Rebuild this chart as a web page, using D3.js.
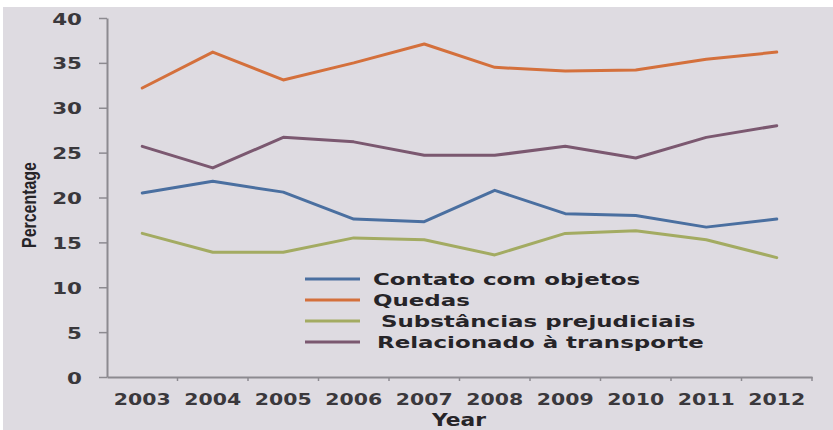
<!DOCTYPE html>
<html>
<head>
<meta charset="utf-8">
<script src="https://cdn.jsdelivr.net/npm/d3@7"></script>
<style>
html,body{margin:0;padding:0;background:#fff;}
svg{display:block;}
</style>
</head>
<body>
<svg id="chart" width="833" height="430"></svg>
<script>
const years = ["2003","2004","2005","2006","2007","2008","2009","2010","2011","2012"];
const seriesNames = ["Contato com objetos","Quedas"," Substâncias prejudiciais","Relacionado à transporte"];
const contato = [20.5,21.8,20.6,17.6,17.3,20.8,18.2,18.0,16.7,17.6];
const quedas = [32.2,36.2,33.1,35.0,37.1,34.5,34.1,34.2,35.4,36.2];
const substancias = [16.0,13.9,13.9,15.5,15.3,13.6,16.0,16.3,15.3,13.3];
const transporte = [25.7,23.3,26.7,26.2,24.7,24.7,25.7,24.4,26.7,28.0];
const yTicks = [0,5,10,15,20,25,30,35,40];
const colors = ["#4a6fa0","#d4703c","#a3ab62","#7b5870"];

const allSeries = [contato, quedas, substancias, transporte];
const svg = d3.select("#chart");
svg.append("rect").attr("x",3).attr("y",7).attr("width",830).attr("height",423).attr("fill","#dedbe1");

const mLeft = 107, mRight = 812, mTop = 18, mBottom = 377;
const x = d3.scaleBand().domain(years).range([mLeft,mRight]);
const y = d3.scaleLinear().domain([0,40]).range([mBottom,mTop]);

const font = "'DejaVu Sans', Verdana, sans-serif";
const axisCol = "#8c8a90";

// y axis
const gy = svg.append("g").attr("transform",`translate(${mLeft},0)`)
  .call(d3.axisLeft(y).tickValues(yTicks).tickSize(8).tickPadding(0).tickSizeOuter(0));
gy.select(".domain").attr("stroke",axisCol).attr("stroke-width",2);
gy.selectAll(".tick line").attr("stroke",axisCol).attr("stroke-width",1.5);
gy.selectAll(".tick text")
  .attr("x",null).attr("dy",null)
  .attr("text-anchor","end")
  .attr("transform","translate(-25,6) scale(1.3,1)")
  .attr("font-family",font).attr("font-weight","bold").attr("font-size",16.5)
  .attr("fill","#3a383c");

// x axis
const gx = svg.append("g").attr("transform",`translate(0,${mBottom})`)
  .call(d3.axisBottom(x).tickSize(0).tickSizeOuter(0));
gx.select(".domain").attr("stroke",axisCol).attr("stroke-width",2);
gx.selectAll(".tick text")
  .attr("y",null).attr("dy",null)
  .attr("text-anchor","middle")
  .attr("transform","translate(0,28) scale(1.24,1)")
  .attr("font-family",font).attr("font-weight","bold").attr("font-size",16.5)
  .attr("fill","#3a383c");
// boundary tick marks between categories
const bounds = years.slice(1).map(d => x(d)).concat([mRight]);
svg.append("g").selectAll("line").data(bounds).join("line")
  .attr("x1",d=>d).attr("x2",d=>d).attr("y1",mBottom).attr("y2",mBottom+4)
  .attr("stroke",axisCol).attr("stroke-width",1.5);

// lines
const line = d3.line().x((d,i)=>x(years[i])+x.bandwidth()/2).y(d=>y(d));
svg.append("g").selectAll("path").data(allSeries).join("path")
  .attr("d",line).attr("fill","none")
  .attr("stroke",(d,i)=>colors[i]).attr("stroke-width",3)
  .attr("stroke-linejoin","round").attr("stroke-linecap","round");

// legend
const lg = svg.append("g");
const rowY = [279,300,321,342];
seriesNames.forEach((name,i)=>{
  lg.append("line").attr("x1",305).attr("x2",360).attr("y1",rowY[i]).attr("y2",rowY[i])
    .attr("stroke",colors[i]).attr("stroke-width",3);
  lg.append("text").attr("transform",`translate(${i===3?377:373},${rowY[i]+6}) scale(1.39,1)`)
    .style("white-space","pre")
    .attr("font-family",font).attr("font-weight","bold").attr("font-size",16.5)
    .attr("fill","#262428").text(name);
});

// axis titles
svg.append("text").attr("transform","translate(459,426) scale(1.28,1)")
  .attr("text-anchor","middle")
  .attr("font-family",font).attr("font-weight","bold").attr("font-size",17)
  .attr("fill","#262428").text("Year");
svg.append("text").attr("transform","translate(36,205) rotate(-90) scale(0.84,1.05)")
  .attr("text-anchor","middle")
  .attr("font-family","'Liberation Sans Narrow', 'Liberation Sans', Arial, sans-serif")
  .attr("font-weight","bold").attr("font-size",19)
  .attr("fill","#262428").text("Percentage");
</script>
</body>
</html>
